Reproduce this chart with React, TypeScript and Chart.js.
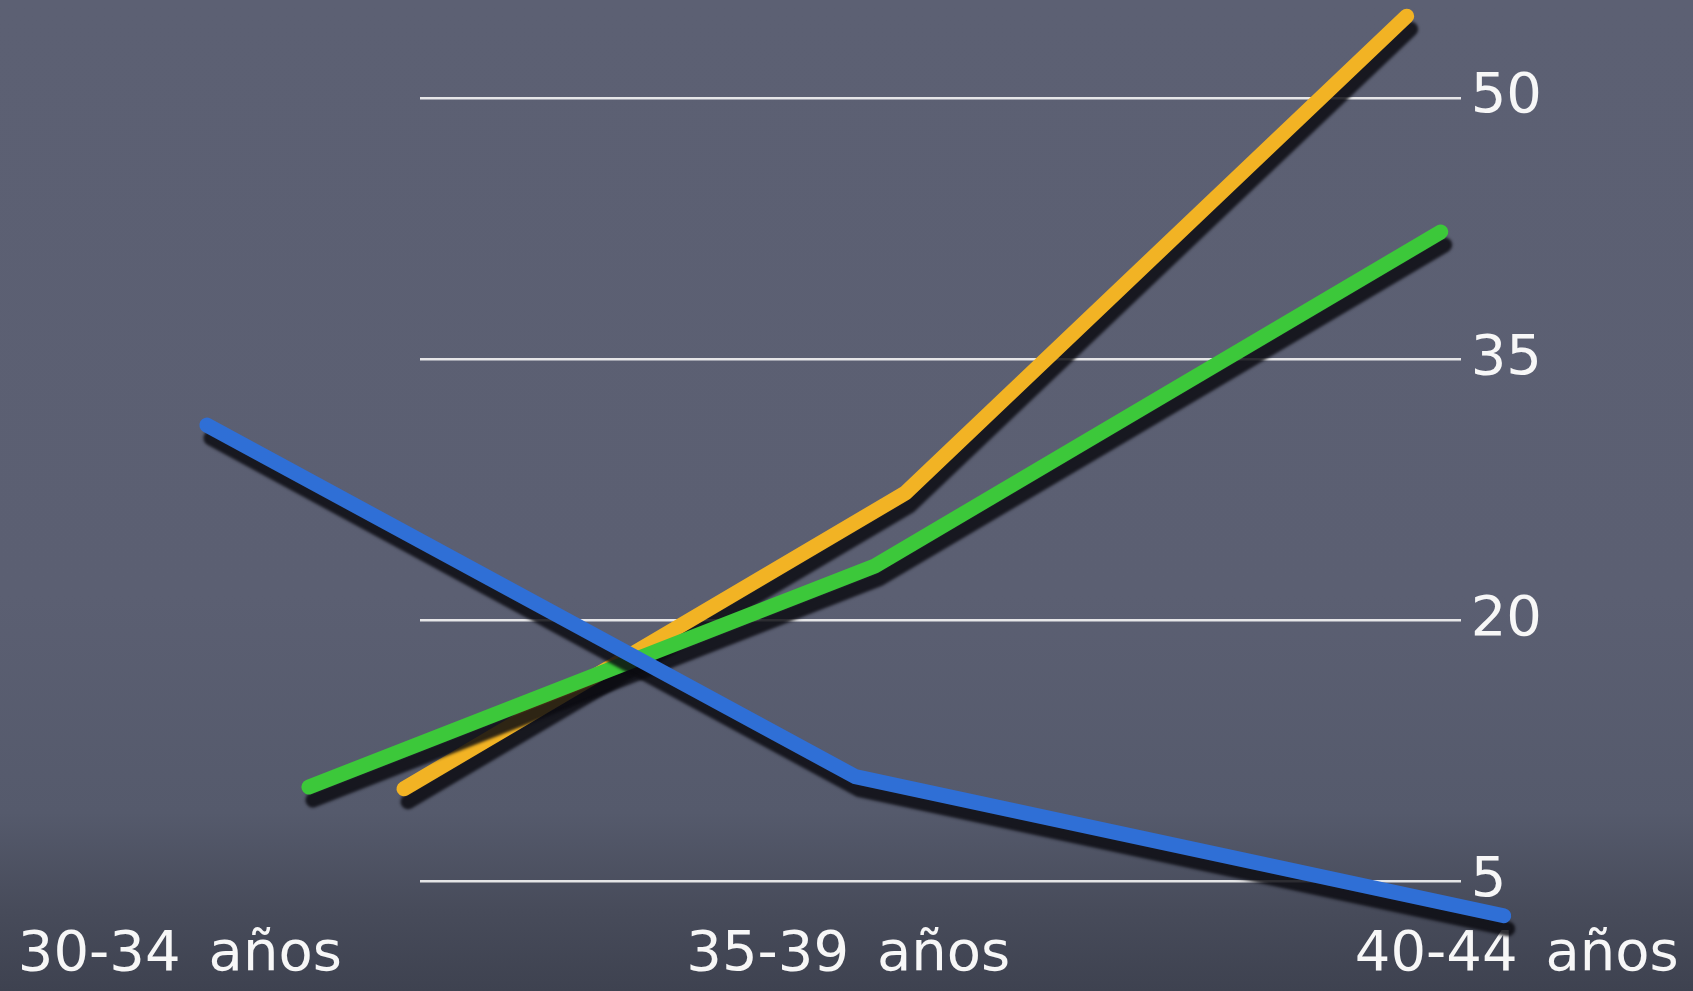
import React, { useEffect, useRef } from "react";
import { Chart, registerables } from "chart.js";

Chart.register(...registerables);

// ---- data ----
const categories = ["30-34\u2002años", "35-39\u2002años", "40-44\u2002años"];
const blueValues = [31.2, 11.0, 3.0];
const greenValues = [10.4, 23.1, 42.3];
const orangeValues = [10.3, 27.3, 54.7];
const yTicks = [5, 20, 35, 50];

// ---- layout / style ----
const W = 1693;
const H = 991;
const PLOT = { left: 420, right: 1460, top: 40 };
const FONT = "'DejaVu Sans', 'Noto Sans', sans-serif";
const FONT_SIZE = 56;

// each series lies in its own depth plane of the 3D scene: first category pixel & step
function depthAxis(firstPx: number, stepPx: number) {
  return {
    type: "linear" as const,
    display: false,
    min: (PLOT.left - firstPx) / stepPx,
    max: (PLOT.right - firstPx) / stepPx,
  };
}

const toPoints = (vals: number[]) => vals.map((v, i) => ({ x: i, y: v }));

const shadowPlugin = {
  id: "tubeShadow",
  beforeDatasetsDraw(chart: any) {
    const ctx = chart.ctx;
    ctx.save();
    ctx.shadowColor = "rgba(12,12,18,0.85)";
    ctx.shadowOffsetX = 4;
    ctx.shadowOffsetY = 13;
    ctx.shadowBlur = 3;
  },
  afterDatasetsDraw(chart: any) {
    chart.ctx.restore();
  },
};

export default function App() {
  const ref = useRef<HTMLCanvasElement | null>(null);

  useEffect(() => {
    if (!ref.current) return;
    const lineStyle = {
      borderWidth: 15,
      pointRadius: 0,
      pointHoverRadius: 0,
      tension: 0,
      borderCapStyle: "round" as const,
      borderJoinStyle: "round" as const,
      clip: false as const,
      fill: false,
    };
    const labelAxis = depthAxis(180, 668);
    const chart = new Chart(ref.current, {
      type: "line",
      data: {
        datasets: [
          { label: "Serie 1", data: toPoints(blueValues), borderColor: "#2f6fd6", xAxisID: "xb", ...lineStyle },
          { label: "Serie 2", data: toPoints(greenValues), borderColor: "#3cc83a", xAxisID: "xg", ...lineStyle },
          { label: "Serie 3", data: toPoints(orangeValues), borderColor: "#f2b324", xAxisID: "xo", ...lineStyle },
        ],
      },
      options: {
        responsive: false,
        animation: false,
        devicePixelRatio: 1,
        layout: {
          padding: { left: PLOT.left, top: PLOT.top, right: 151, bottom: -10 },
        },
        plugins: {
          legend: { display: false },
          tooltip: { enabled: false },
        },
        scales: {
          xl: {
            type: "linear",
            position: "bottom",
            min: labelAxis.min,
            max: labelAxis.max,
            afterBuildTicks: (scale: any) => {
              scale.ticks = categories.map((_, i) => ({ value: i }));
            },
            grid: { display: false, drawTicks: false },
            border: { display: false },
            ticks: {
              autoSkip: false,
              maxRotation: 0,
              minRotation: 0,
              padding: 18,
              color: "#f7f7f7",
              font: { family: FONT, size: FONT_SIZE, lineHeight: 1.0 },
              callback: (v: any) => categories[Math.round(Number(v))] ?? "",
            },
          },
          xb: depthAxis(207, 648),
          xg: depthAxis(309, 565.5),
          xo: depthAxis(404, 501),
          y: {
            type: "linear",
            position: "right",
            min: 3.39,
            max: 53.33,
            afterBuildTicks: (scale: any) => {
              scale.ticks = yTicks.map((v) => ({ value: v }));
            },
            grid: {
              color: "rgba(245,245,245,0.9)",
              lineWidth: 2.5,
              drawTicks: true,
              tickLength: 10,
              tickColor: "rgba(0,0,0,0)",
            },
            border: { display: false },
            ticks: {
              padding: 0,
              color: "#f7f7f7",
              font: { family: FONT, size: FONT_SIZE },
            },
          },
        },
      },
      plugins: [shadowPlugin],
    });
    return () => chart.destroy();
  }, []);

  return (
    <div
      style={{
        position: "fixed",
        left: 0,
        top: 0,
        width: W,
        height: H,
        overflow: "hidden",
        background:
          "linear-gradient(180deg, #5c6073 0%, #5b5f72 60%, #555a6c 82%, #474b5a 92%, #3e4250 100%)",
      }}
    >
      <canvas ref={ref} width={W} height={H} style={{ display: "block" }} />
    </div>
  );
}
